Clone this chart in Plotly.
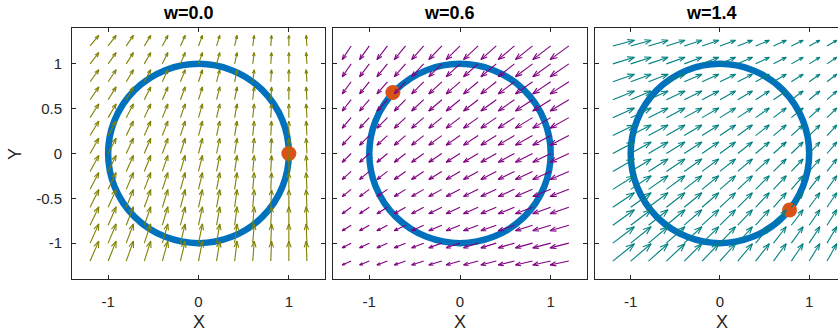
import numpy as np
import plotly.graph_objects as go
import plotly.figure_factory as ff

# ---------------- data ----------------
panel_titles = ["w=0.0", "w=0.6", "w=1.4"]
grid_x = [-1.2, -1.0, -0.8, -0.6, -0.4, -0.2, 0.0, 0.2, 0.4, 0.6, 0.8, 1.0, 1.2]
grid_y = [-1.2, -1.0, -0.8, -0.6, -0.4, -0.2, 0.0, 0.2, 0.4, 0.6, 0.8, 1.0, 1.2]

# horizontal component of the arrows, one value per column (grid_x)
u_w00 = [0.57, 0.52, 0.47, 0.42, 0.36, 0.31, 0.26, 0.21, 0.16, 0.10, 0.05, 0.00, -0.05]
u_w06 = [-0.56, -0.61, -0.66, -0.71, -0.76, -0.82, -0.87, -0.92, -0.97, -1.02, -1.08, -1.13, -1.18]
u_w14 = [1.15, 1.09, 1.04, 0.99, 0.94, 0.89, 0.83, 0.78, 0.73, 0.68, 0.63, 0.57, 0.52]
# vertical component of the arrows, one value per row (grid_y)
v_w00 = [1.31, 1.26, 1.21, 1.16, 1.10, 1.05, 1.00, 0.95, 0.90, 0.84, 0.79, 0.74, 0.69]
v_w06 = [-0.25, -0.30, -0.35, -0.41, -0.46, -0.51, -0.56, -0.61, -0.67, -0.72, -0.77, -0.82, -0.87]
v_w14 = [0.92, 0.87, 0.82, 0.77, 0.72, 0.66, 0.61, 0.56, 0.51, 0.46, 0.40, 0.35, 0.30]

dot_x = [1.0, -0.74, 0.78]
dot_y = [0.0, 0.68, -0.63]

circle_center = (0.0, 0.0)
circle_radius = 1.0

x_ticks = [-1, 0, 1]
x_tick_text = ["-1", "0", "1"]
y_ticks = [-1, -0.5, 0, 0.5, 1]
y_tick_text = ["-1", "-0.5", "0", "0.5", "1"]

# ---------------- styling ----------------
W, H = 838, 335
FONT = "Liberation Sans, Arial, Helvetica, sans-serif"
AXC = "#262626"
field_colors = ["#808000", "#800080", "#008080"]
quiver_scale = [0.17, 0.175, 0.21]
px_left = [72, 333, 595]
px_right = [325, 587, 838]
x_ranges = [[-1.4, 1.4], [-1.4, 1.4], [-1.4, 1.323]]
px_top, px_bottom = 28, 279

us = [u_w00, u_w06, u_w14]
vs = [v_w00, v_w06, v_w14]


def fx(p):
    return p / W


def fy(p):
    return 1 - p / H


fig = go.Figure()
XX, YY = np.meshgrid(grid_x, grid_y)

for i in range(3):
    xa = "x" if i == 0 else f"x{i+1}"
    ya = "y" if i == 0 else f"y{i+1}"
    fig.add_shape(type="circle", xref=xa, yref=ya,
                  x0=circle_center[0] - circle_radius, x1=circle_center[0] + circle_radius,
                  y0=circle_center[1] - circle_radius, y1=circle_center[1] + circle_radius,
                  line=dict(color="#0072BD", width=6.5), layer="below")
    fig.add_trace(go.Scatter(x=[dot_x[i]], y=[dot_y[i]], mode="markers",
                             marker=dict(color="#D95319", size=15, line=dict(width=0)),
                             xaxis=xa, yaxis=ya, showlegend=False, hoverinfo="skip"))
    UU = np.tile(np.array(us[i]), (len(grid_y), 1))
    VV = np.tile(np.array(vs[i]).reshape(-1, 1), (1, len(grid_x)))
    q = ff.create_quiver(XX.flatten(), YY.flatten(), UU.flatten(), VV.flatten(),
                         scale=quiver_scale[i], arrow_scale=0.33, angle=np.pi / 9)
    tr = q.data[0]
    tr.update(xaxis=xa, yaxis=ya, line=dict(color=field_colors[i], width=1.1),
              showlegend=False, hoverinfo="skip", mode="lines")
    fig.add_trace(tr)

    dom_x = [fx(px_left[i]), min(1.0, fx(px_right[i]))]
    dom_y = [fy(px_bottom), fy(px_top)]
    xkey = "xaxis" if i == 0 else f"xaxis{i+1}"
    ykey = "yaxis" if i == 0 else f"yaxis{i+1}"
    fig.layout[xkey] = dict(domain=dom_x, range=x_ranges[i], anchor=ya, automargin=False,
                            tickvals=x_ticks, ticktext=x_tick_text, ticks="inside", ticklen=4,
                            tickcolor=AXC,
                            showline=True, linecolor=AXC, linewidth=1, mirror="ticks",
                            showgrid=False, zeroline=False, ticklabelstandoff=9,
                            tickfont=dict(family=FONT, size=15, color=AXC))
    fig.layout[ykey] = dict(domain=dom_y, range=[-1.4, 1.4], anchor=xa, automargin=False,
                            tickvals=y_ticks, ticktext=y_tick_text, ticks="inside", ticklen=4,
                            tickcolor=AXC, showline=True, linecolor=AXC, linewidth=1,
                            mirror=("ticks" if i < 2 else False),
                            showgrid=False, zeroline=False, showticklabels=(i == 0),
                            ticklabelstandoff=6,
                            tickfont=dict(family=FONT, size=15, color=AXC))
    cx = px_left[i] + 126.5 - 10
    fig.add_annotation(text="<b>" + panel_titles[i] + "</b>", xref="paper", yref="paper",
                       x=fx(cx), y=fy(13), showarrow=False, xanchor="center", yanchor="middle",
                       font=dict(family=FONT, size=18, color="#000000"))
    fig.add_annotation(text="X", xref="paper", yref="paper",
                       x=fx(px_left[i] + 126.5), y=fy(322), showarrow=False,
                       xanchor="center", yanchor="middle",
                       font=dict(family=FONT, size=18, color=AXC))

fig.add_annotation(text="Y", xref="paper", yref="paper", x=fx(15), y=fy(154),
                   showarrow=False, textangle=-90, xanchor="center", yanchor="middle",
                   font=dict(family=FONT, size=18, color=AXC))

fig.update_layout(width=W, height=H, autosize=False,
                  margin=dict(l=0, r=0, t=0, b=0),
                  paper_bgcolor="white", plot_bgcolor="white", showlegend=False)

# remove the browser's default 8px page margin so the figure sits at the window's corner
fig.write_html("out.html", config={"displayModeBar": False},
               post_script="document.body.style.margin='0px';")
